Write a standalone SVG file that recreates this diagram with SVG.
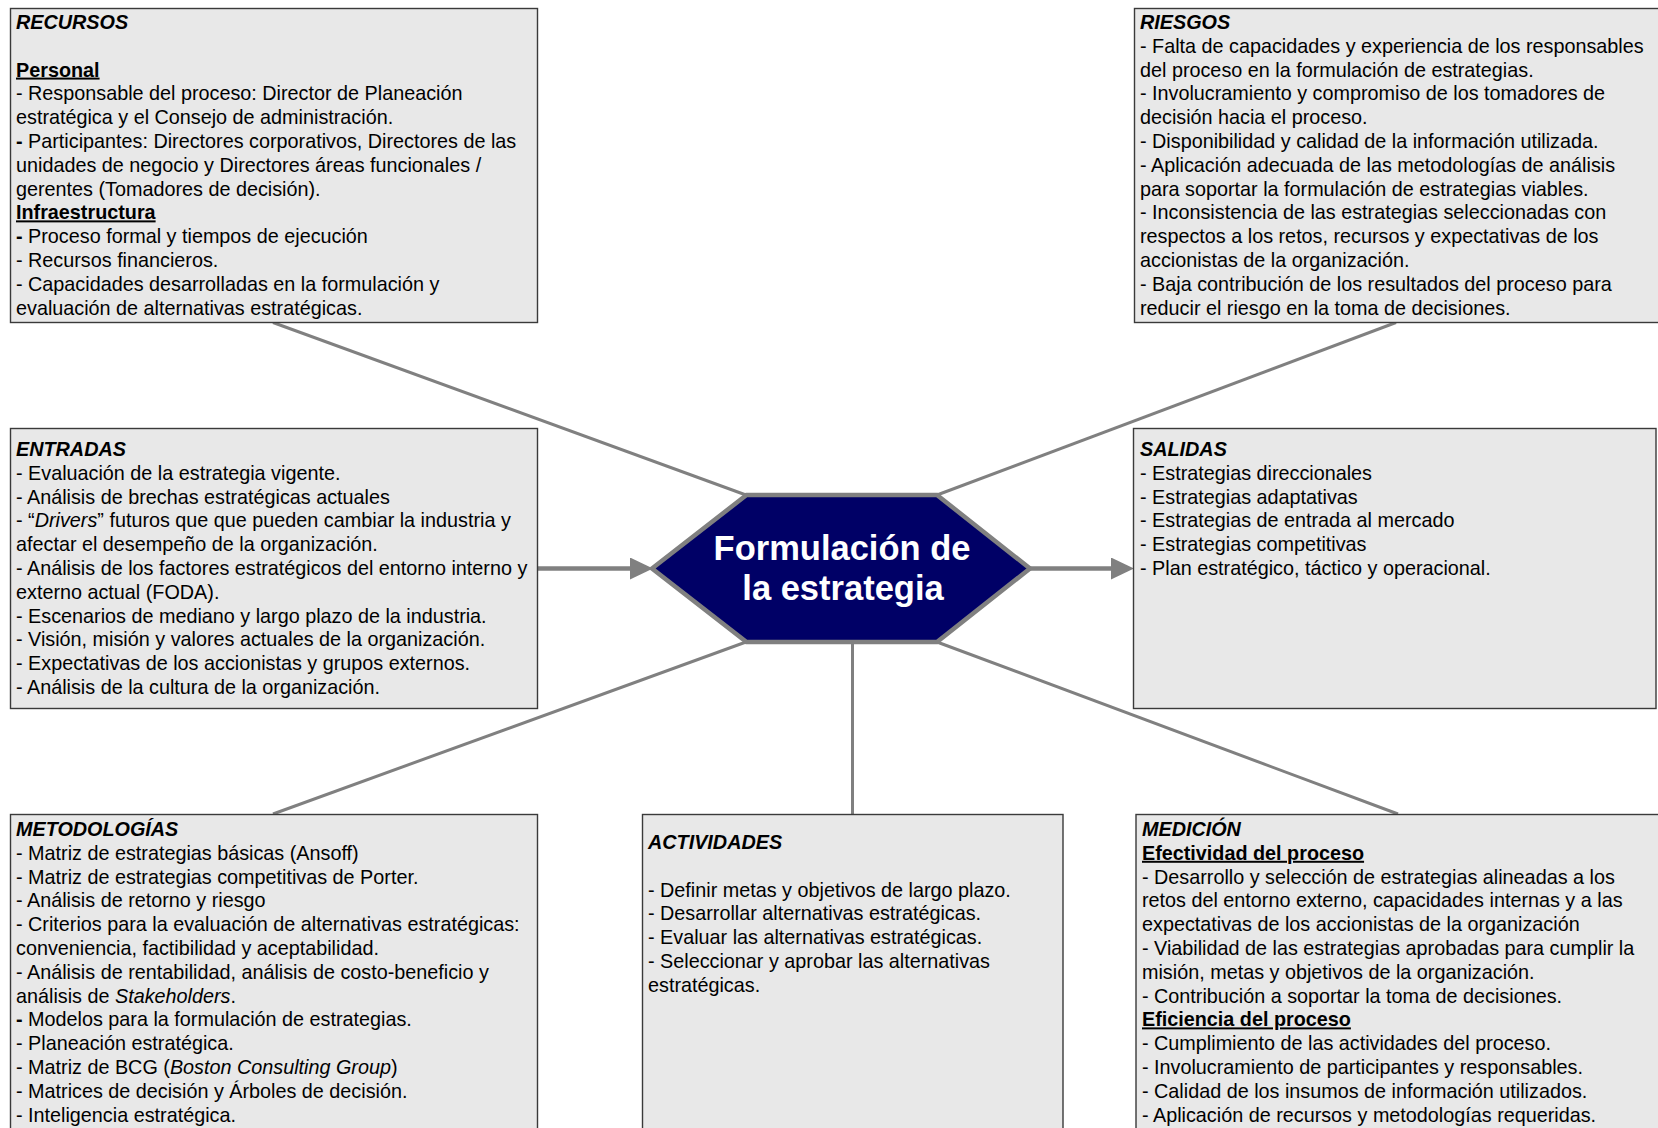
<svg xmlns="http://www.w3.org/2000/svg" width="1658" height="1128" viewBox="0 0 1658 1128">
<defs>
<style>
.box{fill:#e8e8e8;stroke:#3a3a3a;stroke-width:1.4}
.t{font-family:"Liberation Sans",Arial,sans-serif;font-size:19.8px;fill:#000}
.h{font-weight:bold;font-style:italic}
.u{font-weight:bold;text-decoration:underline}
.b{font-weight:bold}
.i{font-style:italic}
.conn{stroke:#808080;stroke-width:3;fill:none}
.arr{stroke:#808080;stroke-width:4.5;fill:none}
.hex{fill:#000066;stroke:#808080;stroke-width:4.5;stroke-linejoin:miter}
.ht{font-family:"Liberation Sans",Arial,sans-serif;font-size:34.5px;font-weight:bold;fill:#fff;text-anchor:middle}
</style>
<marker id="ah" markerUnits="userSpaceOnUse" markerWidth="24" markerHeight="22" refX="0" refY="11" orient="auto">
<path d="M0,0 L23,11 L0,22 z" fill="#808080"/>
</marker>
</defs>
<rect width="1658" height="1128" fill="#fff"/>

<g id="connectors">
<line class="conn" x1="273" y1="322.5" x2="746" y2="495"/>
<line class="conn" x1="1396" y1="322.5" x2="937" y2="495"/>
<line class="conn" x1="273" y1="814" x2="746" y2="642"/>
<line class="conn" x1="1398" y1="814" x2="937" y2="642"/>
<line class="conn" x1="852.5" y1="814" x2="852.5" y2="642"/>
<line class="arr" x1="537" y1="568.5" x2="630" y2="568.5" marker-end="url(#ah)"/>
<line class="arr" x1="1030" y1="568.5" x2="1111" y2="568.5" marker-end="url(#ah)"/>
</g>

<g id="recursos">
<rect class="box" x="10.5" y="8.5" width="527" height="314"/>
<text class="t">
<tspan x="16" y="29" class="h">RECURSOS</tspan>
<tspan x="16" y="76.6" class="u">Personal</tspan>
<tspan x="16" y="100.4">- Responsable del proceso: Director de Planeación</tspan>
<tspan x="16" y="124.2">estratégica y el Consejo de administración.</tspan>
<tspan x="16" y="148"><tspan class="b">-</tspan> Participantes: Directores corporativos, Directores de las</tspan>
<tspan x="16" y="171.8">unidades de negocio y Directores áreas funcionales /</tspan>
<tspan x="16" y="195.6">gerentes (Tomadores de decisión).</tspan>
<tspan x="16" y="219.4" class="u">Infraestructura</tspan>
<tspan x="16" y="243.2"><tspan class="b">-</tspan> Proceso formal y tiempos de ejecución</tspan>
<tspan x="16" y="267">- Recursos financieros.</tspan>
<tspan x="16" y="290.8">- Capacidades desarrolladas en la formulación y</tspan>
<tspan x="16" y="314.6">evaluación de alternativas estratégicas.</tspan>
</text>
</g>

<g id="riesgos">
<rect class="box" x="1134.5" y="8.5" width="530" height="314"/>
<text class="t">
<tspan x="1140" y="29" class="h">RIESGOS</tspan>
<tspan x="1140" y="52.8">- Falta de capacidades y experiencia de los responsables</tspan>
<tspan x="1140" y="76.6">del proceso en la formulación de estrategias.</tspan>
<tspan x="1140" y="100.4">- Involucramiento y compromiso de los tomadores de</tspan>
<tspan x="1140" y="124.2">decisión hacia el proceso.</tspan>
<tspan x="1140" y="148">- Disponibilidad y calidad de la información utilizada.</tspan>
<tspan x="1140" y="171.8">- Aplicación adecuada de las metodologías de análisis</tspan>
<tspan x="1140" y="195.6">para soportar la formulación de estrategias viables.</tspan>
<tspan x="1140" y="219.4">- Inconsistencia de las estrategias seleccionadas con</tspan>
<tspan x="1140" y="243.2">respectos a los retos, recursos y expectativas de los</tspan>
<tspan x="1140" y="267">accionistas de la organización.</tspan>
<tspan x="1140" y="290.8">- Baja contribución de los resultados del proceso para</tspan>
<tspan x="1140" y="314.6">reducir el riesgo en la toma de decisiones.</tspan>
</text>
</g>

<g id="entradas">
<rect class="box" x="10.5" y="428.5" width="527" height="280"/>
<text class="t">
<tspan x="16" y="456" class="h">ENTRADAS</tspan>
<tspan x="16" y="479.8">- Evaluación de la estrategia vigente.</tspan>
<tspan x="16" y="503.6">- Análisis de brechas estratégicas actuales</tspan>
<tspan x="16" y="527.4">- “<tspan class="i">Drivers</tspan>” futuros que que pueden cambiar la industria y</tspan>
<tspan x="16" y="551.2">afectar el desempeño de la organización.</tspan>
<tspan x="16" y="575">- Análisis de los factores estratégicos del entorno interno y</tspan>
<tspan x="16" y="598.8">externo actual (FODA).</tspan>
<tspan x="16" y="622.6">- Escenarios de mediano y largo plazo de la industria.</tspan>
<tspan x="16" y="646.4">- Visión, misión y valores actuales de la organización.</tspan>
<tspan x="16" y="670.2">- Expectativas de los accionistas y grupos externos.</tspan>
<tspan x="16" y="694">- Análisis de la cultura de la organización.</tspan>
</text>
</g>

<g id="salidas">
<rect class="box" x="1133.5" y="428.5" width="522.5" height="280"/>
<text class="t">
<tspan x="1140" y="456" class="h">SALIDAS</tspan>
<tspan x="1140" y="479.8">- Estrategias direccionales</tspan>
<tspan x="1140" y="503.6">- Estrategias adaptativas</tspan>
<tspan x="1140" y="527.4">- Estrategias de entrada al mercado</tspan>
<tspan x="1140" y="551.2">- Estrategias competitivas</tspan>
<tspan x="1140" y="575">- Plan estratégico, táctico y operacional.</tspan>
</text>
</g>

<g id="metodologias">
<rect class="box" x="10.5" y="814.5" width="527" height="330"/>
<text class="t">
<tspan x="16" y="836" class="h">METODOLOGÍAS</tspan>
<tspan x="16" y="859.8">- Matriz de estrategias básicas (Ansoff)</tspan>
<tspan x="16" y="883.6">- Matriz de estrategias competitivas de Porter.</tspan>
<tspan x="16" y="907.4">- Análisis de retorno y riesgo</tspan>
<tspan x="16" y="931.2">- Criterios para la evaluación de alternativas estratégicas:</tspan>
<tspan x="16" y="955">conveniencia, factibilidad y aceptabilidad.</tspan>
<tspan x="16" y="978.8">- Análisis de rentabilidad, análisis de costo-beneficio y</tspan>
<tspan x="16" y="1002.6">análisis de <tspan class="i">Stakeholders</tspan>.</tspan>
<tspan x="16" y="1026.4"><tspan class="b">-</tspan> Modelos para la formulación de estrategias.</tspan>
<tspan x="16" y="1050.2">- Planeación estratégica.</tspan>
<tspan x="16" y="1074">- Matriz de BCG (<tspan class="i">Boston Consulting Group</tspan>)</tspan>
<tspan x="16" y="1097.8">- Matrices de decisión y Árboles de decisión.</tspan>
<tspan x="16" y="1121.6">- Inteligencia estratégica.</tspan>
</text>
</g>

<g id="actividades">
<rect class="box" x="642.5" y="814.5" width="420.5" height="330"/>
<text class="t">
<tspan x="648" y="849" class="h">ACTIVIDADES</tspan>
<tspan x="648" y="896.6">- Definir metas y objetivos de largo plazo.</tspan>
<tspan x="648" y="920.4">- Desarrollar alternativas estratégicas.</tspan>
<tspan x="648" y="944.2">- Evaluar las alternativas estratégicas.</tspan>
<tspan x="648" y="968">- Seleccionar y aprobar las alternativas</tspan>
<tspan x="648" y="991.8">estratégicas.</tspan>
</text>
</g>

<g id="medicion">
<rect class="box" x="1136" y="814.5" width="530" height="330"/>
<text class="t">
<tspan x="1142" y="836" class="h">MEDICIÓN</tspan>
<tspan x="1142" y="859.8" class="u">Efectividad del proceso</tspan>
<tspan x="1142" y="883.6">- Desarrollo y selección de estrategias alineadas a los</tspan>
<tspan x="1142" y="907.4">retos del entorno externo, capacidades internas y a las</tspan>
<tspan x="1142" y="931.2">expectativas de los accionistas de la organización</tspan>
<tspan x="1142" y="955">- Viabilidad de las estrategias aprobadas para cumplir la</tspan>
<tspan x="1142" y="978.8">misión, metas y objetivos de la organización.</tspan>
<tspan x="1142" y="1002.6">- Contribución a soportar la toma de decisiones.</tspan>
<tspan x="1142" y="1026.4" class="u">Eficiencia del proceso</tspan>
<tspan x="1142" y="1050.2">- Cumplimiento de las actividades del proceso.</tspan>
<tspan x="1142" y="1074">- Involucramiento de participantes y responsables.</tspan>
<tspan x="1142" y="1097.8">- Calidad de los insumos de información utilizados.</tspan>
<tspan x="1142" y="1121.6">- Aplicación de recursos y metodologías requeridas.</tspan>
</text>
</g>

<g id="formulacion">
<polygon class="hex" points="652,568.5 746.5,495 937,495 1030,568.5 937,642 746.5,642"/>
<text class="ht"><tspan x="842" y="559.5">Formulación de</tspan><tspan x="843" y="600">la estrategia</tspan></text>
</g>
</svg>
